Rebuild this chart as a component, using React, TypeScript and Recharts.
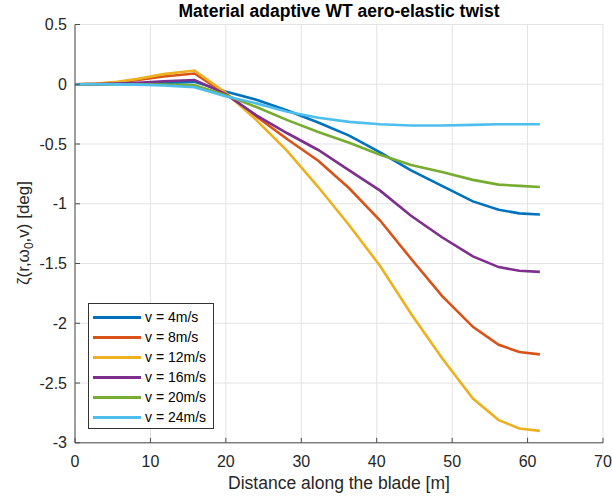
import { LineChart, Line, XAxis, YAxis, CartesianGrid, Legend } from 'recharts'

const distance = [0, 2.87, 5.6, 8.33, 11.75, 15.85, 19.95, 24.05, 28.15, 32.25, 36.35, 40.45, 44.55, 48.65, 52.75, 56.17, 58.9, 61.63]
const twistV4 = [0, 0, 0.002, 0.005, 0.01, 0.02, -0.06, -0.13, -0.22, -0.32, -0.43, -0.57, -0.72, -0.85, -0.98, -1.05, -1.08, -1.09]
const twistV8 = [0, 0.003, 0.015, 0.035, 0.065, 0.09, -0.08, -0.27, -0.46, -0.64, -0.87, -1.14, -1.46, -1.77, -2.03, -2.18, -2.24, -2.26]
const twistV12 = [0, 0.005, 0.02, 0.045, 0.085, 0.115, -0.07, -0.3, -0.56, -0.86, -1.18, -1.52, -1.92, -2.29, -2.63, -2.81, -2.88, -2.9]
const twistV16 = [0, 0.001, 0.005, 0.012, 0.025, 0.036, -0.08, -0.26, -0.41, -0.55, -0.72, -0.89, -1.1, -1.28, -1.44, -1.53, -1.56, -1.57]
const twistV20 = [0, 0, 0, 0, -0.003, -0.008, -0.09, -0.19, -0.3, -0.4, -0.49, -0.59, -0.675, -0.735, -0.8, -0.84, -0.85, -0.86]
const twistV24 = [0, 0, -0.001, -0.003, -0.01, -0.025, -0.1, -0.16, -0.23, -0.28, -0.315, -0.335, -0.345, -0.345, -0.34, -0.335, -0.335, -0.335]

const xTicks = [0, 10, 20, 30, 40, 50, 60, 70]
const yTicks = [-3, -2.5, -2, -1.5, -1, -0.5, 0, 0.5]

const series = [
  { key: 'v4', name: 'v = 4m/s', color: '#0072BD', values: twistV4 },
  { key: 'v8', name: 'v = 8m/s', color: '#D95319', values: twistV8 },
  { key: 'v12', name: 'v = 12m/s', color: '#EDB120', values: twistV12 },
  { key: 'v16', name: 'v = 16m/s', color: '#7E2F8E', values: twistV16 },
  { key: 'v20', name: 'v = 20m/s', color: '#77AC30', values: twistV20 },
  { key: 'v24', name: 'v = 24m/s', color: '#4DBEEE', values: twistV24 },
]

const data = distance.map((x, i) => {
  const row: Record<string, number> = { x }
  series.forEach((s) => {
    row[s.key] = s.values[i]
  })
  return row
})

const FONT = '"Liberation Sans", Arial, Helvetica, sans-serif'
const AXIS = '#4d4d4d'
const TICK_LEN = 5
const X_MARGIN = 13
const Y_MARGIN = 8

function BottomTick({ x, y, payload }: any) {
  const axisY = y - X_MARGIN
  return (
    <g>
      <line x1={x} x2={x} y1={axisY} y2={axisY - TICK_LEN} stroke={AXIS} />
      <text x={x} y={y} dy="0.71em" textAnchor="middle" fontSize={16} fill="#262626" fontFamily={FONT}>
        {payload.value}
      </text>
    </g>
  )
}

function LeftTick({ x, y, payload }: any) {
  const axisX = x + Y_MARGIN
  return (
    <g>
      <line x1={axisX} x2={axisX + TICK_LEN} y1={y} y2={y} stroke={AXIS} />
      <text x={x} y={y} dy="0.355em" textAnchor="end" fontSize={16} fill="#262626" fontFamily={FONT}>
        {payload.value}
      </text>
    </g>
  )
}

function TopTick({ x, y }: any) {
  return <line x1={x} x2={x} y1={y} y2={y + TICK_LEN} stroke={AXIS} />
}

function RightTick({ x, y }: any) {
  return <line x1={x} x2={x - TICK_LEN} y1={y} y2={y} stroke={AXIS} />
}

function LegendBox() {
  return (
    <div
      style={{
        width: 126,
        height: 126,
        border: '1px solid #333',
        background: '#fff',
        fontFamily: FONT,
        fontSize: 14,
        color: '#000',
        paddingTop: 3,
        boxSizing: 'border-box',
      }}
    >
      {series.map((s) => (
        <div key={s.key} style={{ display: 'flex', alignItems: 'center', height: 20 }}>
          <span style={{ display: 'inline-block', width: 48, height: 3, background: s.color, marginLeft: 4, marginRight: 4 }} />
          <span>{s.name}</span>
        </div>
      ))}
    </div>
  )
}

export default function App() {
  return (
    <div style={{ position: 'absolute', left: 0, top: 0, width: 612, height: 499, background: '#fff' }}>
      <LineChart width={612} height={499} data={data} margin={{ top: 24.5, right: 9, bottom: 26.2, left: 0 }}>
        <CartesianGrid stroke="#e3e3e3" strokeWidth={1} />
        <XAxis
          dataKey="x"
          type="number"
          domain={[0, 70]}
          ticks={xTicks}
          allowDataOverflow
          height={30}
          tickSize={0}
          tickMargin={X_MARGIN}
          tick={<BottomTick />}
          axisLine={{ stroke: AXIS }}
          tickLine={false}
        />
        <XAxis
          xAxisId="top"
          orientation="top"
          dataKey="x"
          type="number"
          domain={[0, 70]}
          ticks={xTicks}
          allowDataOverflow
          height={0}
          tickSize={0}
          tickMargin={0}
          tick={<TopTick />}
          axisLine={{ stroke: AXIS }}
          tickLine={false}
        />
        <YAxis
          type="number"
          domain={[-3, 0.5]}
          ticks={yTicks}
          allowDataOverflow
          width={75}
          tickSize={0}
          tickMargin={Y_MARGIN}
          tick={<LeftTick />}
          axisLine={{ stroke: AXIS }}
          tickLine={false}
        />
        <YAxis
          yAxisId="right"
          orientation="right"
          type="number"
          domain={[-3, 0.5]}
          ticks={yTicks}
          allowDataOverflow
          width={0}
          tickSize={0}
          tickMargin={0}
          tick={<RightTick />}
          axisLine={{ stroke: AXIS }}
          tickLine={false}
        />
        {series.map((s) => (
          <Line
            key={s.key}
            type="linear"
            dataKey={s.key}
            name={s.name}
            stroke={s.color}
            strokeWidth={2.6}
            dot={false}
            isAnimationActive={false}
          />
        ))}
        <Legend
          layout="vertical"
          align="center"
          verticalAlign="middle"
          content={() => <LegendBox />}
          wrapperStyle={{ left: 88, top: 303, width: 126, height: 126 }}
        />
      </LineChart>
      <svg width={612} height={499} style={{ position: 'absolute', left: 0, top: 0, pointerEvents: 'none' }}>
        <text x={339} y={17} textAnchor="middle" fontSize={17.5} fontWeight="bold" fill="#000" fontFamily={FONT}>
          Material adaptive WT aero-elastic twist
        </text>
        <text x={339} y={489} textAnchor="middle" fontSize={17.5} fill="#262626" fontFamily={FONT}>
          Distance along the blade [m]
        </text>
        <text transform="translate(29,233) rotate(-90)" textAnchor="middle" fontSize={17} fill="#262626" fontFamily={FONT}>
          ζ(r,ω<tspan fontSize={12} dy={4}>0</tspan>
          <tspan dy={-4}>,v) [deg]</tspan>
        </text>
      </svg>
    </div>
  )
}
